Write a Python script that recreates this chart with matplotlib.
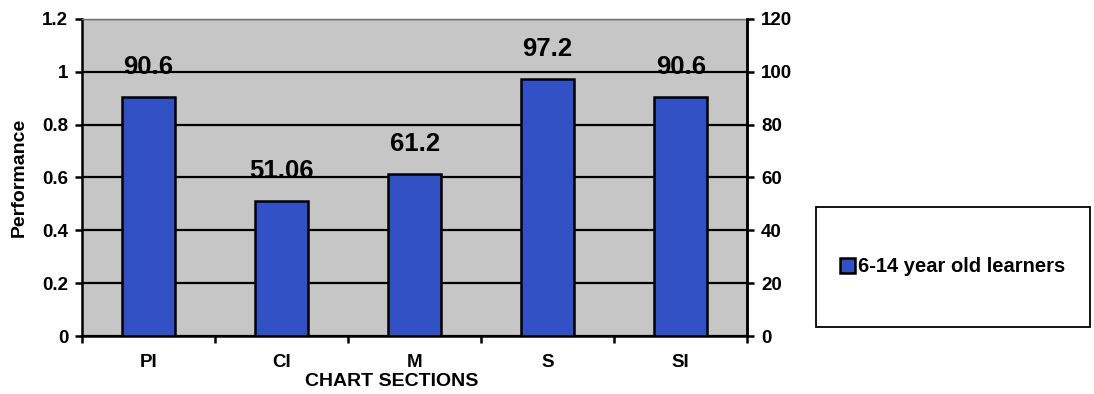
import matplotlib.pyplot as plt
import numpy as np
from matplotlib.patches import Rectangle

plt.rcParams['font.family'] = ['Liberation Sans', 'DejaVu Sans']
plt.rcParams['font.weight'] = 'bold'

sections = ['PI', 'CI', 'M', 'S', 'SI']
scores = [90.6, 51.06, 61.2, 97.2, 90.6]
series_name = '6-14 year old learners'

bar_color = '#3050c4'
plot_bg = '#c6c6c6'

fig = plt.figure(figsize=(10.94, 3.94), dpi=100)
ax = fig.add_axes([0.075, 0.147, 0.608, 0.805])
ax.set_facecolor(plot_bg)

x = np.arange(len(sections))
perf = np.array(scores) / 100.0
bars = ax.bar(x, perf, width=0.4, color=bar_color, edgecolor='black',
              linewidth=1.8, zorder=3)
for xi, val, p in zip(x, scores, perf):
    ax.annotate(f'{val:g}', (xi, p), xytext=(0, 21.5), textcoords='offset points',
                ha='center', va='center', fontsize=18.5, fontweight='bold', zorder=4)

ax.set_xlim(-0.5, len(sections) - 0.5)
ax.set_ylim(0, 1.2)
ax.set_yticks(np.arange(0, 1.21, 0.2))
ax.set_yticklabels(['0', '0.2', '0.4', '0.6', '0.8', '1', '1.2'])
ax.yaxis.grid(True, color='black', linewidth=1.6, zorder=1)
ax.set_axisbelow(True)

# category boundaries carry the ticks, labels sit at the centres
ax.set_xticks(np.arange(-0.5, len(sections)), labels=[''] * (len(sections) + 1))
ax.set_xticks(x, labels=sections, minor=True)
ax.tick_params(axis='x', which='major', direction='out', length=5, width=1.8)
ax.tick_params(axis='x', which='minor', length=0, pad=13, labelsize=13.5)
ax.tick_params(axis='y', direction='out', length=5, width=1.8, labelsize=13.5, pad=5)

ax.set_ylabel('Performance', fontsize=14, fontweight='bold')
ax.yaxis.set_label_coords(-0.082, 0.5)
ax.set_xlabel('CHART SECTIONS', fontsize=14, fontweight='bold')
ax.xaxis.set_label_coords(0.465, -0.117)

for side in ['left', 'bottom', 'right']:
    ax.spines[side].set_linewidth(1.8)
ax.spines['top'].set_color('#707070')
ax.spines['top'].set_linewidth(1.0)

ax2 = ax.twinx()
ax2.set_ylim(0, 120)
ax2.set_yticks(np.arange(0, 121, 20))
ax2.tick_params(axis='y', direction='out', length=5, width=1.8, labelsize=13.5, pad=5)
for side in ['left', 'top', 'bottom']:
    ax2.spines[side].set_visible(False)
ax2.spines['right'].set_linewidth(1.8)

# legend box at the right of the chart
fig.patches.append(Rectangle((0.746, 0.170), 0.250, 0.305, transform=fig.transFigure,
                             facecolor='white', edgecolor='black', linewidth=1.3))
leg = fig.legend([bars], [series_name], loc='center',
                 bbox_to_anchor=(0.746, 0.170, 0.250, 0.305),
                 frameon=False, handlelength=0.75, handleheight=0.75,
                 handletextpad=0.15, prop={'size': 14.5, 'weight': 'bold'})

fig.savefig('out.png', dpi=100)
